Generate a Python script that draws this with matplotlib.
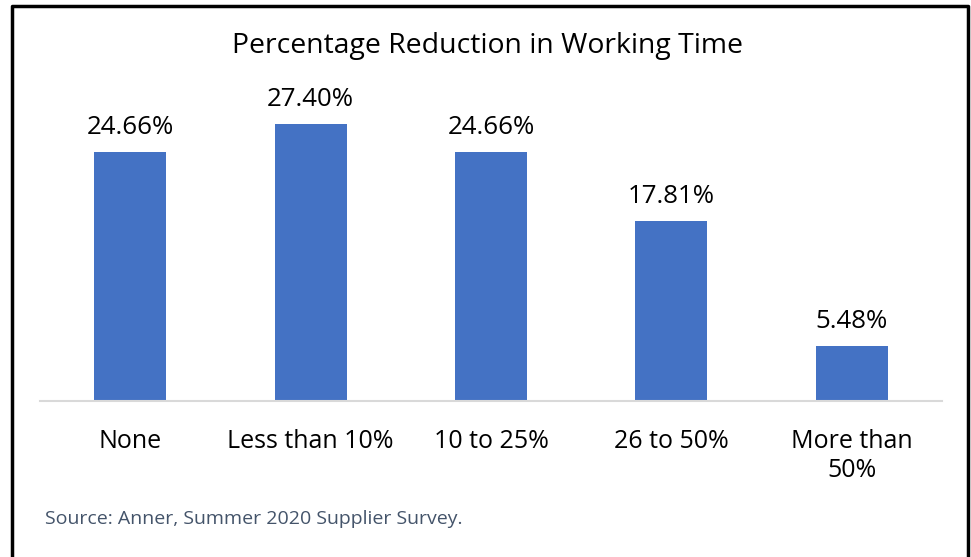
import matplotlib
matplotlib.use('Agg')
import matplotlib.pyplot as plt
from matplotlib.lines import Line2D

# survey answers: share of suppliers by working time reduction
categories = ['None', 'Less than 10%', '10 to 25%', '26 to 50%', 'More than\n50%']
shares = [24.66, 27.40, 24.66, 17.81, 5.48]

bar_color = '#4472C4'
plt.rcParams['font.family'] = ['Open Sans', 'DejaVu Sans']

fig = plt.figure(figsize=(9.71, 5.57), dpi=100)
ax = fig.add_axes([40 / 971, 1 - 401 / 557, 902 / 971, 303 / 557])

x = list(range(len(categories)))
ax.bar(x, shares, width=0.4, color=bar_color)
for xi, v in zip(x, shares):
    ax.annotate('%.2f%%' % v, (xi, v), xytext=(0, 13), textcoords='offset points',
                ha='center', va='baseline', fontsize=18.6, color='#000000')

ax.set_xlim(-0.5, 4.5)
ax.set_ylim(0, 30)
ax.set_xticks(x)
ax.set_xticklabels(categories, fontsize=18, linespacing=1.2)
ax.tick_params(axis='x', length=0, pad=20)
ax.set_yticks([])
for s in ['top', 'right', 'left']:
    ax.spines[s].set_visible(False)
ax.spines['bottom'].set_color('#D9D9D9')
ax.spines['bottom'].set_linewidth(1.5)

fig.text(487 / 971, 1 - 46 / 557, 'Percentage Reduction in Working Time',
         ha='center', va='center', fontsize=20.4)
fig.text(45 / 971, 1 - 524 / 557, 'Source: Anner, Summer 2020 Supplier Survey.',
         ha='left', va='baseline', fontsize=14, color='#44546A')

# frame around the chart (left, top, right)
fig.add_artist(Line2D([12 / 971, 12 / 971, 968 / 971, 968 / 971],
                      [0, 1 - 6 / 557, 1 - 6 / 557, 0],
                      transform=fig.transFigure, color='black', linewidth=2.5))

fig.savefig('out.png', dpi=100)
